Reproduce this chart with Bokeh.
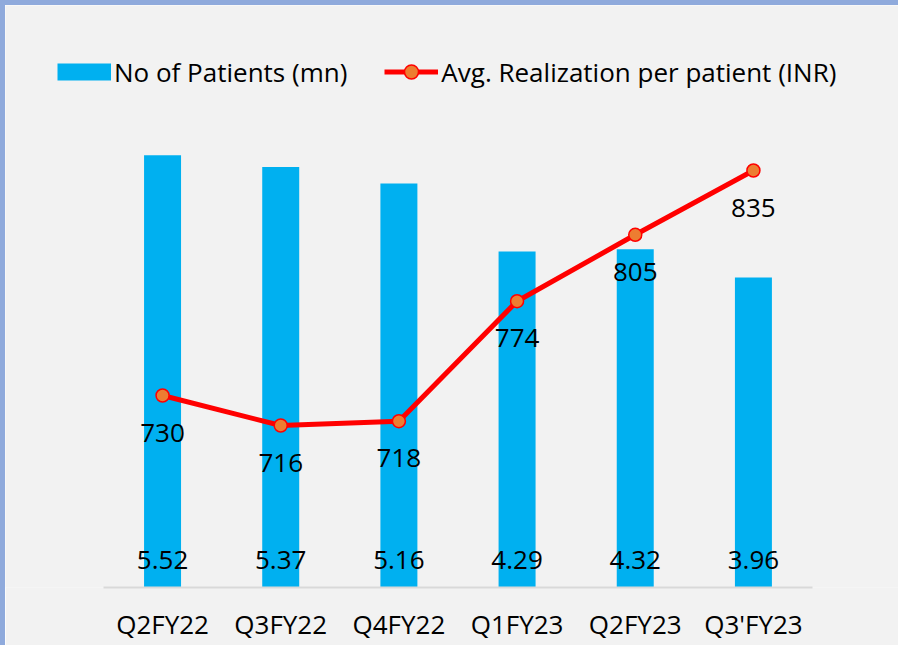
from bokeh.plotting import figure
from bokeh.models import (ColumnDataSource, Range1d, LabelSet, FixedTicker,
                          Legend, LegendItem)
from bokeh.core.properties import value
from bokeh.embed import file_html
from bokeh.resources import INLINE

categories = ["Q2FY22", "Q3FY22", "Q4FY22", "Q1FY23", "Q2FY23", "Q3'FY23"]
patients = [5.52, 5.37, 5.16, 4.29, 4.32, 3.96]
realization = [730, 716, 718, 774, 805, 835]

FONT = "Open Sans"
FS = "26px"

xpos = list(range(len(categories)))
src = ColumnDataSource(dict(
    x=xpos,
    patients=patients,
    real=realization,
    zero=[0] * len(categories),
    plabel=[f"{v:.2f}" for v in patients],
    rlabel=[str(v) for v in realization],
))

p = figure(
    x_range=Range1d(-1.329, 6.270),
    y_range=Range1d(0, 7.433),
    width=898, height=645,
    output_backend="svg", toolbar_location=None,
    y_axis_location=None,
    min_border_left=0, min_border_right=0,
    min_border_top=0, min_border_bottom=63,
)
p.extra_y_ranges = {"inr": Range1d(640.4, 912.0),
                    "legend_only": Range1d(1000, 2000)}
p.background_fill_color = "#f2f2f2"
p.border_fill_color = "#f2f2f2"
p.outline_line_color = None
p.xgrid.visible = False
p.ygrid.visible = False
p.styles = {"border-top": "5px solid #8faadc", "border-left": "5px solid #8faadc"}

bars = p.vbar(x="x", top="patients", width=0.313, source=src,
              fill_color="#00b0f0", line_color=None)
line_r = p.line(x="x", y="real", source=src, y_range_name="inr",
                line_color="#ff0000", line_width=5)
pts = p.scatter(x="x", y="real", source=src, y_range_name="inr",
                size=13, fill_color="#ed7d31", line_color="#ff0000", line_width=1.5)

# legend swatch for the bars (a thick line, drawn only in the legend)
bar_swatch = p.line(x="x", y="patients", source=src, y_range_name="legend_only",
                    line_color="#00b0f0", line_width=17, line_cap="butt")

p.add_layout(LabelSet(x="x", y="zero", text="plabel", source=src,
                      text_align="center", text_baseline="middle", y_offset=28,
                      text_font=value(FONT), text_font_size=value(FS),
                      text_color="#000000"))
p.add_layout(LabelSet(x="x", y="real", text="rlabel", source=src, y_range_name="inr",
                      text_align="center", text_baseline="middle", y_offset=-37,
                      text_font=value(FONT), text_font_size=value(FS),
                      text_color="#000000"))

ax = p.xaxis[0]
ax.ticker = FixedTicker(ticks=xpos)
ax.major_label_overrides = {i: c for i, c in zip(xpos, categories)}
ax.bounds = (xpos[0] - 0.5, xpos[-1] + 0.5)
ax.axis_line_color = "#d9d9d9"
ax.axis_line_width = 2
ax.major_tick_line_color = None
ax.minor_tick_line_color = None
ax.major_label_text_font = FONT
ax.major_label_text_font_size = FS
ax.major_label_text_color = "#000000"
ax.major_label_standoff = 12

legend = Legend(
    items=[LegendItem(label="No of Patients (mn)", renderers=[bar_swatch]),
           LegendItem(label="Avg. Realization per patient (INR)", renderers=[line_r, pts])],
    orientation="horizontal", location=(52, 497.5),
    glyph_width=54, glyph_height=35, label_height=35, label_standoff=3,
    spacing=37, padding=0, margin=0,
    border_line_color=None, background_fill_alpha=0,
    label_text_font=FONT, label_text_font_size=FS, label_text_color="#000000",
)
p.add_layout(legend)

open("out.html", "w").write(file_html(p, INLINE))
